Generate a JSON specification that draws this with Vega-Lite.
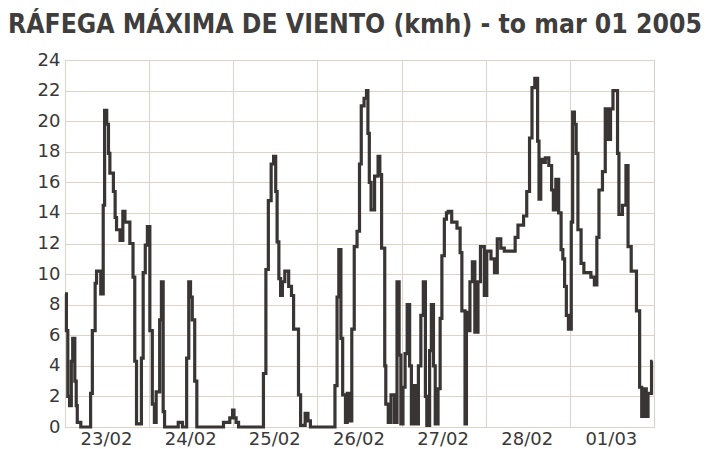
{
  "$schema": "https://vega.github.io/schema/vega-lite/v6.json",
  "autosize": "none",
  "width": 589,
  "height": 367,
  "padding": {"left": 65, "top": 60, "right": 54, "bottom": 22},
  "background": "white",
  "title": {
    "text": "RÁFEGA MÁXIMA DE VIENTO (kmh) - to mar 01 2005",
    "anchor": "start",
    "frame": "group",
    "dx": -57,
    "offset": -8,
    "baseline": "alphabetic",
    "font": "DejaVu Sans Condensed",
    "fontSize": 26.3,
    "fontWeight": "bold",
    "color": "#403d3d"
  },
  "data": {
    "values": [
      {"h": 0, "v": 8.7}, {"h": 0.4, "v": 6.3}, {"h": 0.8, "v": 2.0}, {"h": 1.3, "v": 1.4}, {"h": 1.8, "v": 4.3}, {"h": 2.2, "v": 5.8}, {"h": 2.8, "v": 3.0}, {"h": 3.2, "v": 1.4}, {"h": 3.5, "v": 0.3}, {"h": 4.5, "v": 0},
      {"h": 7.3, "v": 2.2}, {"h": 7.8, "v": 6.3}, {"h": 8.6, "v": 9.4}, {"h": 9.0, "v": 10.2}, {"h": 10.2, "v": 8.7}, {"h": 10.9, "v": 14.5}, {"h": 11.3, "v": 20.7}, {"h": 11.9, "v": 19.8}, {"h": 12.4, "v": 17.9}, {"h": 12.8, "v": 16.6},
      {"h": 13.8, "v": 15.4}, {"h": 14.3, "v": 13.7}, {"h": 14.7, "v": 12.9}, {"h": 15.7, "v": 12.2}, {"h": 16.5, "v": 14.1}, {"h": 17.1, "v": 13.4}, {"h": 18.5, "v": 12.0}, {"h": 19.4, "v": 9.8}, {"h": 19.9, "v": 4.3}, {"h": 20.4, "v": 0.2},
      {"h": 21.8, "v": 4.5}, {"h": 22.3, "v": 10.1}, {"h": 22.9, "v": 11.9}, {"h": 23.5, "v": 13.1},
      {"h": 24.2, "v": 6.3}, {"h": 24.9, "v": 1.5}, {"h": 25.5, "v": 0.3}, {"h": 26.0, "v": 2.3}, {"h": 27.0, "v": 7.0}, {"h": 27.5, "v": 9.5}, {"h": 28.0, "v": 1.0}, {"h": 28.4, "v": 0},
      {"h": 32.3, "v": 0.3}, {"h": 33.5, "v": 0}, {"h": 34.7, "v": 4.5}, {"h": 35.3, "v": 9.5}, {"h": 35.8, "v": 8.5}, {"h": 36.3, "v": 7.0}, {"h": 37.0, "v": 3.0}, {"h": 37.6, "v": 0},
      {"h": 45.2, "v": 0.3}, {"h": 47.0, "v": 0.6}, {"h": 47.8, "v": 1.1},
      {"h": 48.2, "v": 0.6}, {"h": 48.8, "v": 0.3}, {"h": 49.5, "v": 0}, {"h": 56.6, "v": 3.5}, {"h": 57.3, "v": 10.3}, {"h": 58.0, "v": 14.8}, {"h": 58.8, "v": 17.2}, {"h": 59.5, "v": 17.7}, {"h": 60.1, "v": 15.4}, {"h": 60.5, "v": 12.1},
      {"h": 61.0, "v": 9.7}, {"h": 61.5, "v": 8.6}, {"h": 62.0, "v": 9.5}, {"h": 62.7, "v": 10.2}, {"h": 63.8, "v": 9.2}, {"h": 64.6, "v": 8.6}, {"h": 65.2, "v": 6.4}, {"h": 66.6, "v": 2.1}, {"h": 67.2, "v": 0.1}, {"h": 68.5, "v": 0.9}, {"h": 69.3, "v": 0.4}, {"h": 70.0, "v": 0},
      {"h": 77.0, "v": 2.7}, {"h": 77.6, "v": 8.5}, {"h": 78.1, "v": 11.6}, {"h": 78.7, "v": 5.8}, {"h": 79.2, "v": 2.1}, {"h": 80.0, "v": 0.3}, {"h": 80.5, "v": 2.2}, {"h": 81.0, "v": 0.4}, {"h": 81.8, "v": 6.4}, {"h": 82.5, "v": 11.8},
      {"h": 83.3, "v": 12.8}, {"h": 84.0, "v": 17.2}, {"h": 84.5, "v": 21.0}, {"h": 85.3, "v": 21.5}, {"h": 86.0, "v": 22.0}, {"h": 86.4, "v": 19.2}, {"h": 86.8, "v": 16.0}, {"h": 87.3, "v": 14.2}, {"h": 88.3, "v": 16.4}, {"h": 89.3, "v": 17.7},
      {"h": 89.8, "v": 16.5}, {"h": 90.3, "v": 11.7}, {"h": 91.2, "v": 4.0}, {"h": 91.5, "v": 1.5}, {"h": 92.2, "v": 0.3}, {"h": 93.0, "v": 2.1}, {"h": 94.0, "v": 0.3}, {"h": 94.7, "v": 9.5}, {"h": 95.3, "v": 4.7}, {"h": 95.8, "v": 0.2},
      {"h": 96.4, "v": 2.6}, {"h": 97.0, "v": 4.8}, {"h": 97.6, "v": 8.0}, {"h": 98.3, "v": 4.0}, {"h": 98.8, "v": 0.2}, {"h": 99.5, "v": 2.7}, {"h": 100.2, "v": 0.2}, {"h": 100.8, "v": 4.0}, {"h": 101.5, "v": 7.3}, {"h": 102.2, "v": 9.5},
      {"h": 102.8, "v": 2.0}, {"h": 103.2, "v": 0.1}, {"h": 104.0, "v": 5.0}, {"h": 104.5, "v": 8.0}, {"h": 105.1, "v": 4.0}, {"h": 105.6, "v": 0.2}, {"h": 106.4, "v": 2.5}, {"h": 107.0, "v": 7.1}, {"h": 107.5, "v": 11.2}, {"h": 108.2, "v": 13.6},
      {"h": 108.8, "v": 14.0}, {"h": 109.3, "v": 14.1}, {"h": 110.3, "v": 13.4}, {"h": 111.8, "v": 13.0}, {"h": 112.7, "v": 11.4}, {"h": 113.2, "v": 7.6}, {"h": 114.1, "v": 0.2}, {"h": 114.5, "v": 7.5}, {"h": 115.0, "v": 6.3}, {"h": 115.5, "v": 9.5},
      {"h": 116.2, "v": 10.8}, {"h": 116.9, "v": 6.2}, {"h": 117.8, "v": 9.5}, {"h": 118.5, "v": 11.8}, {"h": 119.6, "v": 8.6},
      {"h": 120.3, "v": 11.5}, {"h": 121.5, "v": 11.0}, {"h": 122.5, "v": 10.1}, {"h": 123.3, "v": 12.3}, {"h": 124.3, "v": 11.7}, {"h": 125.3, "v": 11.5}, {"h": 128.4, "v": 12.4}, {"h": 129.2, "v": 13.2}, {"h": 130.8, "v": 13.8}, {"h": 131.7, "v": 15.4},
      {"h": 132.5, "v": 18.9}, {"h": 133.2, "v": 22.2}, {"h": 134.0, "v": 22.8}, {"h": 134.8, "v": 18.7}, {"h": 135.2, "v": 14.9}, {"h": 135.7, "v": 17.5}, {"h": 136.3, "v": 17.3}, {"h": 137.0, "v": 17.6}, {"h": 138.0, "v": 17.1}, {"h": 138.8, "v": 15.5},
      {"h": 139.3, "v": 14.2}, {"h": 140.0, "v": 16.2}, {"h": 140.8, "v": 14.0}, {"h": 141.5, "v": 11.6}, {"h": 142.0, "v": 11.0}, {"h": 142.5, "v": 9.2}, {"h": 143.0, "v": 7.3}, {"h": 143.6, "v": 6.4},
      {"h": 144.4, "v": 13.4}, {"h": 144.8, "v": 20.6}, {"h": 145.3, "v": 19.8}, {"h": 145.8, "v": 17.9}, {"h": 146.3, "v": 12.9}, {"h": 147.2, "v": 10.7}, {"h": 148.0, "v": 10.1}, {"h": 150.0, "v": 9.8}, {"h": 151.0, "v": 9.3}, {"h": 151.7, "v": 12.4},
      {"h": 152.3, "v": 15.5}, {"h": 153.3, "v": 16.7}, {"h": 154.1, "v": 20.8}, {"h": 154.8, "v": 18.8}, {"h": 155.6, "v": 20.8}, {"h": 156.3, "v": 22.0}, {"h": 157.6, "v": 17.9}, {"h": 158.0, "v": 13.9}, {"h": 159.0, "v": 14.5}, {"h": 160.0, "v": 17.1},
      {"h": 160.6, "v": 11.8}, {"h": 161.5, "v": 10.2}, {"h": 163.0, "v": 7.6}, {"h": 163.9, "v": 2.6}, {"h": 164.5, "v": 0.7}, {"h": 165.0, "v": 2.5}, {"h": 165.8, "v": 0.7}, {"h": 166.3, "v": 2.2}, {"h": 167.3, "v": 4.3}, {"h": 167.6, "v": 4.3}
    ]
  },
  "mark": {"type": "line", "interpolate": "step-after", "color": "#3a3535", "strokeWidth": 3.2, "strokeJoin": "miter", "strokeCap": "butt"},
  "encoding": {
    "x": {
      "field": "h",
      "type": "quantitative",
      "scale": {"domain": [0, 168], "nice": false, "zero": false},
      "axis": {
        "title": null,
        "values": [0, 24, 48, 72, 96, 120, 144],
        "labelExpr": "['23/02','24/02','25/02','26/02','27/02','28/02','01/03'][round(datum.value / 24)]",
        "labelOffset": 41,
        "labelAlign": "center",
        "labelPadding": 3,
        "ticks": false,
        "domain": false,
        "grid": true
      }
    },
    "y": {
      "field": "v",
      "type": "quantitative",
      "scale": {"domain": [0, 24], "nice": false},
      "axis": {
        "title": null,
        "values": [0, 2, 4, 6, 8, 10, 12, 14, 16, 18, 20, 22, 24],
        "labelPadding": 5,
        "ticks": false,
        "domain": false,
        "grid": true
      }
    }
  },
  "config": {
    "view": {"stroke": "#d9cfc4", "strokeWidth": 1},
    "axis": {
      "gridColor": "#ddd3c8",
      "gridWidth": 1,
      "gridOpacity": 1,
      "labelFont": "DejaVu Sans",
      "labelFontSize": 18,
      "labelColor": "#3a3838"
    }
  }
}
